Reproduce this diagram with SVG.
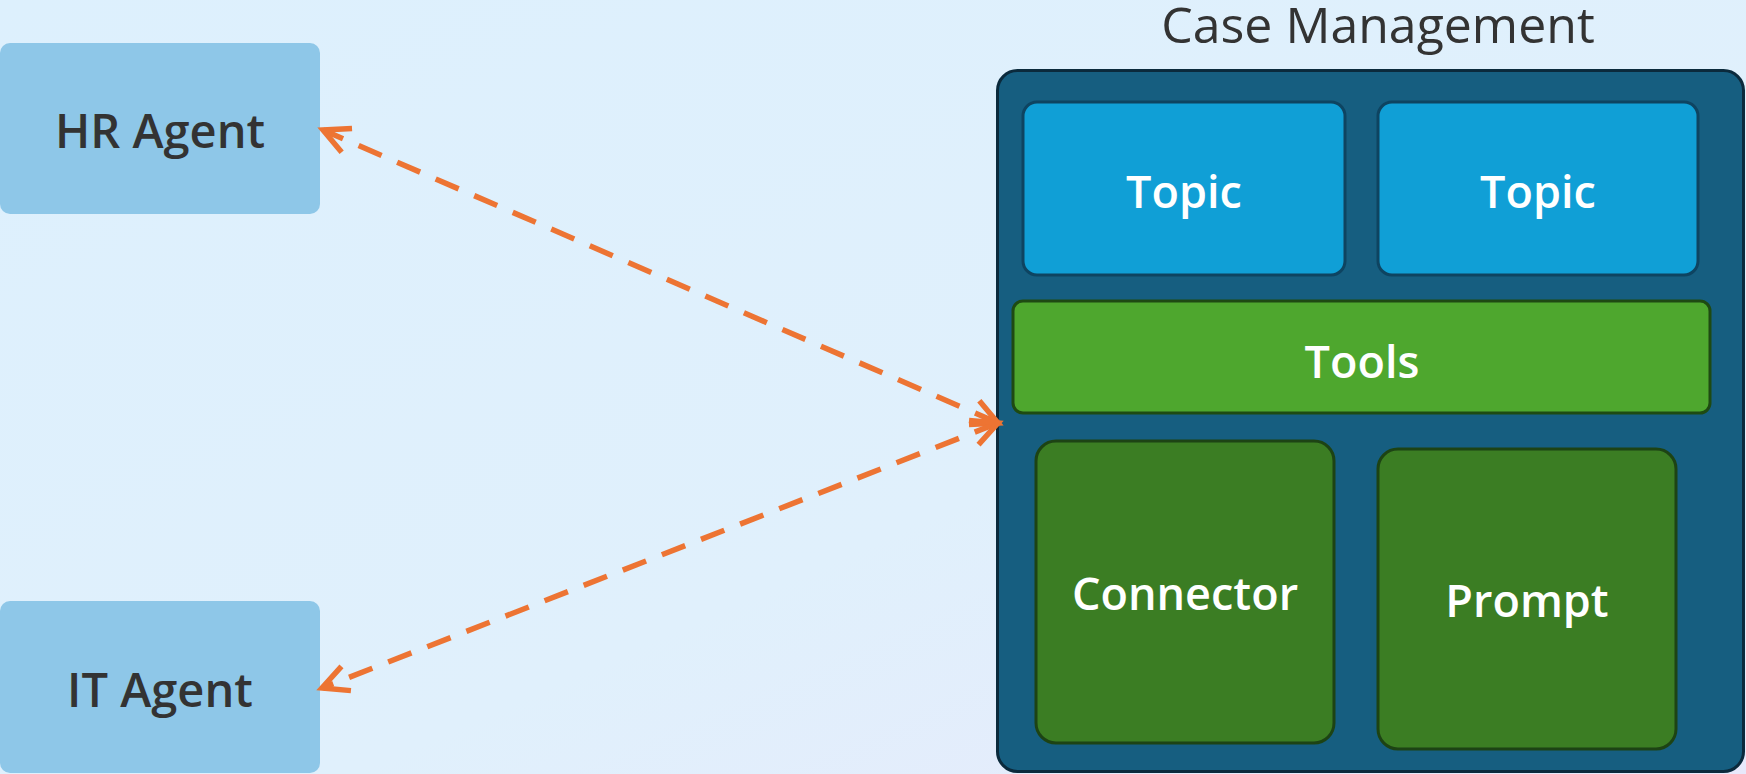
<svg xmlns="http://www.w3.org/2000/svg" width="1746" height="774" viewBox="0 0 1746 774">
<defs>
<linearGradient id="bg" x1="0" y1="0" x2="1" y2="1">
<stop offset="0" stop-color="#ddf0fd"/>
<stop offset="0.6" stop-color="#e0f0fc"/>
<stop offset="1" stop-color="#e8e9fb"/>
</linearGradient>
<marker id="chev" markerUnits="userSpaceOnUse" markerWidth="40" markerHeight="40" viewBox="-30 -20 40 40" refX="0" refY="0" orient="auto-start-reverse">
<path d="M-26,-13 L0,0 L-26,13" fill="none" stroke="#ed7433" stroke-width="5.5"/>
</marker>
<style>
.agent{fill:#8ec7e8}
.agentText{font-family:"Open Sans","Noto Sans",sans-serif;font-weight:600;font-size:47px;fill:#333333;text-anchor:middle}
.title{font-family:"Open Sans","Noto Sans",sans-serif;font-weight:400;font-size:50px;fill:#333333;text-anchor:middle}
.inner{font-family:"Open Sans","Noto Sans",sans-serif;font-weight:600;font-size:45px;fill:#ffffff;text-anchor:middle}
.topic{fill:#109fd6;stroke:#0e4461;stroke-width:3}
.tools{fill:#4ea72e;stroke:#1e4a12;stroke-width:3}
.dark{fill:#3b7d23;stroke:#1d4314;stroke-width:3}
.conn{fill:none;stroke:#ed7433;stroke-width:5.5;stroke-dasharray:25 17}
</style>
</defs>
<rect x="0" y="0" width="1746" height="774" fill="url(#bg)"/>

<g id="hr-agent">
<rect class="agent" x="0" y="43" width="320" height="171" rx="10"/>
<text class="agentText" x="160" y="148">HR Agent</text>
</g>

<g id="it-agent">
<rect class="agent" x="0" y="601" width="320" height="172" rx="10"/>
<text class="agentText" x="160" y="707">IT Agent</text>
</g>

<g id="case-management">
<text class="title" x="1378" y="43">Case Management</text>
<rect x="997.5" y="70.5" width="746" height="701" rx="20" fill="#165e80" stroke="#0b2a3c" stroke-width="3"/>
</g>

<g id="topic-1">
<rect class="topic" x="1023" y="102" width="322" height="173" rx="14"/>
<text class="inner" x="1184" y="208">Topic</text>
</g>

<g id="topic-2">
<rect class="topic" x="1378" y="102" width="320" height="173" rx="14"/>
<text class="inner" x="1538" y="208">Topic</text>
</g>

<g id="tools">
<rect class="tools" x="1013" y="301" width="697" height="112" rx="10"/>
<text class="inner" x="1362" y="378">Tools</text>
</g>

<g id="connector">
<rect class="dark" x="1036" y="441" width="298" height="302" rx="20"/>
<text class="inner" x="1185" y="610">Connector</text>
</g>

<g id="prompt">
<rect class="dark" x="1378" y="449" width="298" height="300" rx="20"/>
<text class="inner" x="1527" y="617">Prompt</text>
</g>

<g id="connectors">
<line class="conn" x1="998" y1="423" x2="323" y2="130" marker-start="url(#chev)" marker-end="url(#chev)"/>
<line class="conn" x1="998" y1="423" x2="322" y2="688" marker-start="url(#chev)" marker-end="url(#chev)"/>
</g>
</svg>
